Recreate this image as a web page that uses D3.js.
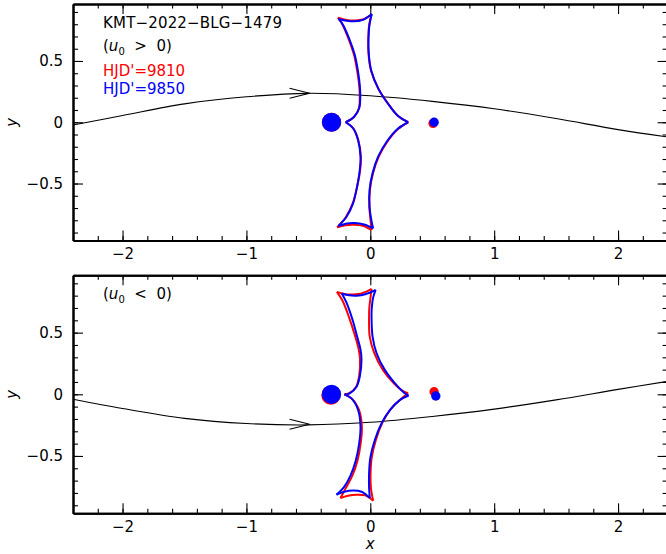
<!DOCTYPE html>
<html>
<head>
<meta charset="utf-8">
<script src="https://cdn.jsdelivr.net/npm/d3@7"></script>
<style>
  body { margin: 0; background: #fff; }
  text { font-family: "DejaVu Sans", sans-serif; }
</style>
</head>
<body>
<div id="chart"></div>
<script>
// axis ticks
const xTicks = [-2, -1, 0, 1, 2];
const xTickLabels = ["−2", "−1", "0", "1", "2"];
const xMinor = [-2.4, -2.2, -2.0, -1.8, -1.6, -1.4, -1.2, -1.0, -0.8, -0.6, -0.4, -0.2, 0, 0.2, 0.4, 0.6, 0.8, 1.0, 1.2, 1.4, 1.6, 1.8, 2.0, 2.2, 2.4];
const yTicks = [-0.5, 0, 0.5];
const yTickLabels = ["−0.5", "0", "0.5"];
const yMinor = [-0.9, -0.8, -0.7, -0.6, -0.5, -0.4, -0.3, -0.2, -0.1, 0, 0.1, 0.2, 0.3, 0.4, 0.5, 0.6, 0.7, 0.8, 0.9];

// source trajectory (x, y) for both solutions
const trajX = [-2.4, -2.0, -1.5, -1.0, -0.5, 0, 0.5, 1.0, 1.5, 2.0, 2.4];
const trajTopY = [-0.022, 0.055, 0.15, 0.208, 0.236, 0.216, 0.17, 0.11, 0.03, -0.06, -0.12];
const trajBottomY = [-0.04, -0.115, -0.195, -0.237, -0.248, -0.227, -0.18, -0.12, -0.045, 0.04, 0.105];
const arrowTop = [-0.49, 0.236];
const arrowBottom = [-0.49, -0.243];

// lens positions [x, y] : big, small
const lensTopRed = [[-0.313, 0.0], [0.507, -0.009]];
const lensTopBlue = [[-0.313, 0.0], [0.515, 0.0]];
const lensBottomRed = [[-0.318, -0.007], [0.515, 0.021]];
const lensBottomBlue = [[-0.313, 0.0], [0.529, -0.014]];

// caustics, one array of points per fold (cusp to cusp)
// u0 > 0, HJD'=9810
const causticTopRed = [
  [[-0.262, 0.853], [-0.19, 0.834], [-0.125, 0.83], [-0.06, 0.838], [0.010, 0.881]],
  [[0.010, 0.881], [-0.008, 0.80], [-0.014, 0.74], [-0.015, 0.57], [0.006, 0.42], [0.066, 0.272], [0.142, 0.155], [0.222, 0.053], [0.307, 0.0]],
  [[0.307, 0.0], [0.224, -0.055], [0.14, -0.155], [0.068, -0.281], [0.022, -0.417], [-0.003, -0.553], [-0.008, -0.689], [0.002, -0.80], [0.010, -0.880]],
  [[0.010, -0.880], [-0.06, -0.845], [-0.13, -0.836], [-0.2, -0.84], [-0.268, -0.858]],
  [[-0.268, -0.858], [-0.198, -0.775], [-0.142, -0.662], [-0.106, -0.526], [-0.082, -0.390], [-0.076, -0.281], [-0.097, -0.145], [-0.138, -0.049], [-0.200, 0.0]],
  [[-0.200, 0.0], [-0.13, 0.045], [-0.092, 0.114], [-0.085, 0.209], [-0.090, 0.304], [-0.105, 0.413], [-0.131, 0.549], [-0.172, 0.671], [-0.226, 0.80], [-0.262, 0.853]]
];
// u0 > 0, HJD'=9850
const causticTopBlue = [
  [[-0.256, 0.843], [-0.19, 0.828], [-0.125, 0.824], [-0.06, 0.835], [0.012, 0.884]],
  [[0.012, 0.884], [-0.006, 0.80], [-0.012, 0.74], [-0.013, 0.57], [0.008, 0.42], [0.067, 0.27], [0.14, 0.155], [0.22, 0.055], [0.305, 0.0]],
  [[0.305, 0.0], [0.22, -0.055], [0.135, -0.155], [0.063, -0.281], [0.018, -0.417], [-0.006, -0.553], [-0.006, -0.689], [0.008, -0.798], [0.023, -0.866]],
  [[0.023, -0.866], [-0.05, -0.835], [-0.125, -0.822], [-0.19, -0.826], [-0.258, -0.847]],
  [[-0.258, -0.847], [-0.192, -0.771], [-0.139, -0.662], [-0.107, -0.526], [-0.085, -0.390], [-0.079, -0.281], [-0.099, -0.145], [-0.139, -0.049], [-0.198, 0.0]],
  [[-0.198, 0.0], [-0.13, 0.045], [-0.090, 0.114], [-0.081, 0.209], [-0.085, 0.304], [-0.099, 0.413], [-0.125, 0.549], [-0.166, 0.671], [-0.220, 0.794], [-0.256, 0.843]]
];
// u0 < 0, HJD'=9810
const causticBottomRed = [
  [[-0.27, 0.83], [-0.2, 0.812], [-0.139, 0.81], [-0.07, 0.818], [0.010, 0.855]],
  [[0.010, 0.855], [0.0, 0.77], [-0.008, 0.70], [-0.01, 0.63], [-0.005, 0.47], [0.03, 0.34], [0.10, 0.20], [0.19, 0.09], [0.265, 0.025], [0.305, 0.008]],
  [[0.305, 0.008], [0.245, -0.04], [0.165, -0.12], [0.098, -0.23], [0.045, -0.37], [0.012, -0.51], [0.002, -0.645], [0.005, -0.76], [0.023, -0.863]],
  [[0.023, -0.863], [-0.04, -0.82], [-0.111, -0.814], [-0.18, -0.822], [-0.241, -0.841]],
  [[-0.241, -0.841], [-0.2, -0.765], [-0.145, -0.66], [-0.103, -0.536], [-0.078, -0.40], [-0.068, -0.265], [-0.09, -0.13], [-0.15, -0.035], [-0.21, 0.0]],
  [[-0.21, 0.0], [-0.17, 0.01], [-0.115, 0.06], [-0.09, 0.15], [-0.083, 0.28], [-0.095, 0.37], [-0.125, 0.48], [-0.17, 0.62], [-0.225, 0.76], [-0.27, 0.83]]
];
// u0 < 0, HJD'=9850
const causticBottomBlue = [
  [[-0.23, 0.818], [-0.17, 0.803], [-0.11, 0.800], [-0.04, 0.812], [0.043, 0.846]],
  [[0.043, 0.846], [0.022, 0.78], [0.012, 0.70], [0.010, 0.633], [0.018, 0.470], [0.050, 0.335], [0.117, 0.198], [0.198, 0.090], [0.27, 0.015], [0.309, -0.01]],
  [[0.309, -0.01], [0.238, -0.047], [0.158, -0.128], [0.090, -0.237], [0.036, -0.373], [0.001, -0.509], [-0.010, -0.645], [-0.010, -0.754], [-0.004, -0.841]],
  [[-0.004, -0.841], [-0.07, -0.79], [-0.139, -0.78], [-0.21, -0.79], [-0.273, -0.814]],
  [[-0.273, -0.814], [-0.214, -0.754], [-0.160, -0.659], [-0.117, -0.536], [-0.090, -0.400], [-0.079, -0.264], [-0.098, -0.128], [-0.152, -0.033], [-0.207, -0.003]],
  [[-0.207, -0.003], [-0.166, 0.008], [-0.111, 0.062], [-0.085, 0.144], [-0.071, 0.280], [-0.079, 0.362], [-0.107, 0.470], [-0.144, 0.606], [-0.192, 0.743], [-0.23, 0.818]]
];

const RED = "#ff0000", BLUE = "#0000ff";

const width = 666, height = 554;
const svg = d3.select("#chart").append("svg")
    .attr("width", width)
    .attr("height", height);

const x = d3.scaleLinear().domain([-2.4, 2.4]).range([73, 667.6]);

const panels = [
    {top: 4, bottom: 240.5, traj: trajTopY, arrow: arrowTop,
     red: causticTopRed, blue: causticTopBlue, lensRed: lensTopRed, lensBlue: lensTopBlue},
    {top: 275.3, bottom: 513.3, traj: trajBottomY, arrow: arrowBottom,
     red: causticBottomRed, blue: causticBottomBlue, lensRed: lensBottomRed, lensBlue: lensBottomBlue}
];

panels.forEach((p, k) => {
    const y = d3.scaleLinear().domain([-0.965, 0.965]).range([p.bottom, p.top]);
    const g = svg.append("g");

    // clip to plot box
    const clipId = "clip" + k;
    svg.append("clipPath").attr("id", clipId)
        .append("rect")
        .attr("x", x.range()[0]).attr("y", p.top)
        .attr("width", x.range()[1] - x.range()[0]).attr("height", p.bottom - p.top);
    const plot = g.append("g").attr("clip-path", `url(#${clipId})`);

    // trajectory
    const trajLine = d3.line()
        .x((d, i) => x(trajX[i]))
        .y(d => y(d))
        .curve(d3.curveCatmullRom.alpha(0.5));
    plot.append("path")
        .attr("d", trajLine(p.traj))
        .attr("fill", "none")
        .attr("stroke", "#000")
        .attr("stroke-width", 1.1);

    // arrow head (open chevron)
    const ax = x(p.arrow[0]), ay = y(p.arrow[1]);
    plot.append("path")
        .attr("d", `M${ax - 20},${ay - 5}L${ax},${ay}L${ax - 20},${ay + 5}`)
        .attr("fill", "none")
        .attr("stroke", "#000")
        .attr("stroke-width", 1.1);

    // caustics: red first, blue on top
    const foldLine = d3.line()
        .x(d => x(d[0]))
        .y(d => y(d[1]))
        .curve(d3.curveCatmullRom.alpha(0.5));
    [[p.red, RED], [p.blue, BLUE]].forEach(([folds, col]) => {
        plot.append("g").selectAll("path")
            .data(folds)
            .join("path")
            .attr("d", foldLine)
            .attr("fill", "none")
            .attr("stroke", col)
            .attr("stroke-width", 2)
            .attr("stroke-linejoin", "miter");
    });

    // lenses
    [[p.lensRed, RED], [p.lensBlue, BLUE]].forEach(([pts, col]) => {
        plot.append("g").selectAll("circle")
            .data(pts)
            .join("circle")
            .attr("cx", d => x(d[0]))
            .attr("cy", d => y(d[1]))
            .attr("r", (d, i) => i === 0 ? 9.6 : 4.7)
            .attr("fill", col);
    });

    // axes, ticks pointing inward
    const h = p.bottom - p.top;
    const w = x.range()[1] - x.range()[0];
    const axes = g.append("g");

    const fmtX = d => xTickLabels[xTicks.indexOf(d)];
    const fmtY = d => yTickLabels[yTicks.indexOf(d)];

    axes.append("g").attr("transform", `translate(0,${p.bottom})`)
        .call(d3.axisBottom(x).tickValues(xMinor).tickSizeInner(-4.5).tickSizeOuter(0).tickFormat(""));
    axes.append("g").attr("transform", `translate(0,${p.bottom})`)
        .call(d3.axisBottom(x).tickValues(xTicks).tickSizeInner(-10).tickSizeOuter(0).tickPadding(8).tickFormat(fmtX));
    axes.append("g").attr("transform", `translate(0,${p.top})`)
        .call(d3.axisTop(x).tickValues(xMinor).tickSizeInner(-4.5).tickSizeOuter(0).tickFormat(""));
    axes.append("g").attr("transform", `translate(0,${p.top})`)
        .call(d3.axisTop(x).tickValues(xTicks).tickSizeInner(-10).tickSizeOuter(0).tickFormat(""));

    axes.append("g").attr("transform", `translate(${x.range()[0]},0)`)
        .call(d3.axisLeft(y).tickValues(yMinor).tickSizeInner(-5).tickSizeOuter(0).tickFormat(""));
    axes.append("g").attr("transform", `translate(${x.range()[0]},0)`)
        .call(d3.axisLeft(y).tickValues(yTicks).tickSizeInner(-10).tickSizeOuter(0).tickPadding(10).tickFormat(fmtY));
    axes.append("g").attr("transform", `translate(${x.range()[1]},0)`)
        .call(d3.axisRight(y).tickValues(yMinor).tickSizeInner(-5).tickSizeOuter(0).tickFormat(""));
    axes.append("g").attr("transform", `translate(${x.range()[1]},0)`)
        .call(d3.axisRight(y).tickValues(yTicks).tickSizeInner(-10).tickSizeOuter(0).tickFormat(""));

    axes.selectAll(".domain").attr("stroke", "#000").attr("stroke-width", 2);
    axes.selectAll(".tick line").attr("stroke", "#000").attr("stroke-width", 1.1);
    axes.selectAll(".tick text")
        .attr("fill", "#000")
        .style("font-family", "'DejaVu Sans', sans-serif")
        .style("font-size", "15px");

    // y label
    g.append("text")
        .attr("transform", `translate(17,${y(0)}) rotate(-90)`)
        .attr("text-anchor", "middle")
        .style("font-size", "15px")
        .style("font-style", "italic")
        .text("y");
});

// x label
svg.append("text")
    .attr("x", x(0))
    .attr("y", 549)
    .attr("text-anchor", "middle")
    .style("font-size", "15px")
    .style("font-style", "italic")
    .text("x");

// annotations
function u0Label(yBase, sign) {
    const t = svg.append("text")
        .attr("x", 103)
        .attr("y", yBase)
        .style("font-size", "15px")
        .attr("xml:space", "preserve");
    t.append("tspan").text("(");
    t.append("tspan").style("font-style", "italic").text("u");
    t.append("tspan").attr("dy", 4).style("font-size", "10px").text("0");
    t.append("tspan").attr("dy", -4).text(`  ${sign}  0)`);
}

svg.append("text")
    .attr("x", 103).attr("y", 28)
    .style("font-size", "15px")
    .attr("textLength", 179)
    .attr("lengthAdjust", "spacing")
    .text("KMT−2022−BLG−1479");
u0Label(51, ">");
svg.append("text")
    .attr("x", 103).attr("y", 76)
    .style("font-size", "15px")
    .attr("fill", RED)
    .text("HJD'=9810");
svg.append("text")
    .attr("x", 103).attr("y", 94)
    .style("font-size", "15px")
    .attr("fill", BLUE)
    .text("HJD'=9850");
u0Label(299, "<");
</script>
</body>
</html>
